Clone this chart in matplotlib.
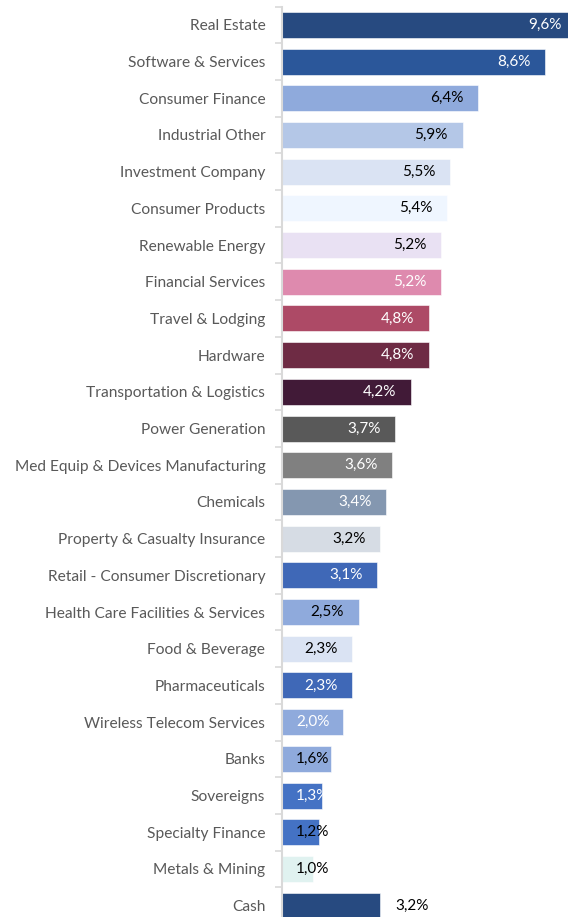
import matplotlib
matplotlib.use("Agg")
import matplotlib.pyplot as plt
from matplotlib.ticker import FixedLocator

categories = [
    "Real Estate", "Software & Services", "Consumer Finance", "Industrial Other",
    "Investment Company", "Consumer Products", "Renewable Energy", "Financial Services",
    "Travel & Lodging", "Hardware", "Transportation & Logistics", "Power Generation",
    "Med Equip & Devices Manufacturing", "Chemicals", "Property & Casualty Insurance",
    "Retail - Consumer Discretionary", "Health Care Facilities & Services",
    "Food & Beverage", "Pharmaceuticals", "Wireless Telecom Services", "Banks",
    "Sovereigns", "Specialty Finance", "Metals & Mining", "Cash",
]
values = [9.6, 8.6, 6.4, 5.9, 5.5, 5.4, 5.2, 5.2, 4.8, 4.8, 4.2, 3.7, 3.6, 3.4,
          3.2, 3.1, 2.5, 2.3, 2.3, 2.0, 1.6, 1.3, 1.2, 1.0, 3.2]
value_labels = ["9,6%", "8,6%", "6,4%", "5,9%", "5,5%", "5,4%", "5,2%", "5,2%",
                "4,8%", "4,8%", "4,2%", "3,7%", "3,6%", "3,4%", "3,2%", "3,1%",
                "2,5%", "2,3%", "2,3%", "2,0%", "1,6%", "1,3%", "1,2%", "1,0%", "3,2%"]
bar_colors = ["#274a80", "#2b579a", "#8faadc", "#b4c7e7", "#dae3f3", "#eff6ff",
              "#e9e1f3", "#de8aae", "#ad4a66", "#6e2b44", "#411a37", "#595959",
              "#808080", "#8497b0", "#d6dce4", "#3f68b7", "#8faadc", "#dae3f3",
              "#3f68b7", "#8faadc", "#8faadc", "#4472c4", "#4472c4", "#e0f2f0",
              "#274a80"]
label_colors = ["white", "white", "black", "black", "black", "black", "black", "white",
                "white", "white", "white", "white", "white", "white", "black", "white",
                "black", "black", "white", "white", "black", "white", "black", "black",
                "black"]

plt.rcParams['font.family'] = ['Lato', 'DejaVu Sans']

W, H = 568, 917
fig = plt.figure(figsize=(W / 100, H / 100), dpi=100)
ax_left = 282 / W
ax = fig.add_axes([ax_left, -7 / H, 1 - ax_left, 917.5 / H])

n = len(categories)
ypos = list(range(n))
ax.barh(ypos, values, height=0.71, color=bar_colors, edgecolor="white", linewidth=0.4)
ax.set_ylim(n - 0.5, -0.5)
ax.set_xlim(0, (W - 282) / 30.6)

ax.set_yticks(ypos)
ax.set_yticklabels(categories, fontsize=11.2, color="#595959")
ax.yaxis.set_minor_locator(FixedLocator([i + 0.5 for i in range(-1, n)]))
ax.tick_params(axis="y", which="major", length=0, pad=12)
ax.tick_params(axis="y", which="minor", length=5, width=1.2, color="#d9d9d9")
ax.set_xticks([])
for s in ["top", "right", "bottom"]:
    ax.spines[s].set_visible(False)
ax.spines["left"].set_color("#d9d9d9")
ax.spines["left"].set_linewidth(1.5)

for i, (v, lab, c) in enumerate(zip(values, value_labels, label_colors)):
    if categories[i] == "Cash":
        ax.annotate(lab, xy=(v, i), xytext=(11, 0), textcoords="offset points",
                    ha="left", va="center", fontsize=11, color=c, annotation_clip=False)
    else:
        ax.annotate(lab, xy=(max(v, 2.03), i), xytext=(-10.5, 0), textcoords="offset points",
                    ha="right", va="center", fontsize=11, color=c, annotation_clip=False)

fig.savefig("out.png", dpi=100)
